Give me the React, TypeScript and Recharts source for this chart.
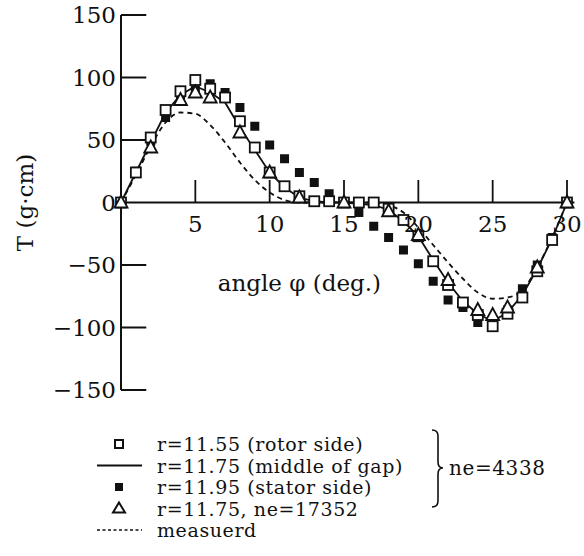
import React from "react";
import {
  ComposedChart,
  Line,
  Scatter,
  XAxis,
  YAxis,
  ReferenceLine,
  ReferenceDot,
} from "recharts";

const FONT = "'DejaVu Serif', serif";
const INK = "#111";

// angle phi (deg.) sampled every degree
const degrees = [0, 1, 2, 3, 4, 5, 6, 7, 8, 9, 10, 11, 12, 13, 14, 15, 16, 17, 18, 19, 20, 21, 22, 23, 24, 25, 26, 27, 28, 29, 30];

// r=11.55 (rotor side), open squares
const rotorSide = [0, 24, 52, 74, 89, 98, 91, 84, 65, 44, 24, 13, 5, 1, 1, 0, 0, 0, -5, -14, -27, -47, -66, -80, -90, -99, -89, -76, -55, -30, 0];
// r=11.75 (middle of gap), solid line
const middleOfGap = [0, 24, 48, 72, 86, 93, 88, 80, 60, 42, 24, 12, 4, 1, 0, 0, -1, -2, -6, -15, -27, -46, -64, -79, -89, -95, -88, -74, -53, -29, 0];
// r=11.95 (stator side), filled squares
const statorSide = [0, 25, 49, 68, 82, 90, 95, 88, 76, 61, 46, 35, 24, 16, 7, 0, -8, -19, -28, -38, -49, -63, -78, -84, -96, -97, -86, -69, -50, -28, 0];
// measured, dashed
const measured = [0, 22, 45, 64, 72, 71, 62, 48, 32, 18, 8, 2, 0, 0, 0, 0, 0, 0, -2, -8, -20, -34, -48, -61, -72, -77, -76, -70, -52, -28, 0];

// r=11.75, ne=17352, open triangles
const fineDeg = [0, 2, 4, 5, 6, 8, 10, 12, 15, 18, 20, 22, 24, 25, 26, 28, 30];
const fineMesh = [0, 44, 82, 88, 84, 56, 24, 4, 0, -7, -26, -62, -86, -90, -84, -52, 0];

const xTicks = [5, 10, 15, 20, 25, 30];
const yTicks = [-150, -100, -50, 0, 50, 100, 150];
const yInnerTicks = [150, 100, 50, -50, -100, -150];

const legendLabels = [
  "r=11.55 (rotor side)",
  "r=11.75 (middle of gap)",
  "r=11.95 (stator side)",
  "r=11.75, ne=17352",
  "measuerd",
];
const groupLabel = "ne=4338";

const rows = degrees.map((d, i) => ({ deg: d, middle: middleOfGap[i], measured: measured[i] }));
const rotorPts = degrees.map((d, i) => ({ deg: d, T: rotorSide[i] }));
const statorPts = degrees.map((d, i) => ({ deg: d, T: statorSide[i] }));
const finePts = fineDeg.map((d, i) => ({ deg: d, T: fineMesh[i] }));

const minus = (v: number) => (v < 0 ? "\u2212" + Math.abs(v) : String(v));

const OpenSquare = (p: any) => (
  <rect x={p.cx - 5} y={p.cy - 5} width={10} height={10} fill="#fff" stroke={INK} strokeWidth={1.8} />
);
const FilledSquare = (p: any) => (
  <rect x={p.cx - 4.5} y={p.cy - 4.5} width={9} height={9} fill={INK} />
);
const OpenTriangle = (p: any) => (
  <path
    d={`M${p.cx},${p.cy - 7} L${p.cx + 6.5},${p.cy + 5} L${p.cx - 6.5},${p.cy + 5} Z`}
    fill="#fff"
    stroke={INK}
    strokeWidth={1.8}
  />
);

function LegendBlock() {
  const rowY = (i: number) => 24 + i * 21.5;
  return (
    <svg width={584} height={136} style={{ position: "absolute", left: 0, top: 420 }}>
      <rect x={115} y={rowY(0) - 4} width={8} height={8} fill="#fff" stroke={INK} strokeWidth={2} />
      <line x1={97} x2={142} y1={rowY(1)} y2={rowY(1)} stroke={INK} strokeWidth={2} />
      <rect x={115} y={rowY(2) - 4} width={8} height={8} fill={INK} />
      <path
        d={`M119,${rowY(3) - 6} L125,${rowY(3) + 4} L113,${rowY(3) + 4} Z`}
        fill="#fff"
        stroke={INK}
        strokeWidth={2}
      />
      <line x1={97} x2={142} y1={rowY(4)} y2={rowY(4)} stroke={INK} strokeWidth={1.5} strokeDasharray="3 2.5" />
      {legendLabels.map((t, i) => (
        <text
          key={t}
          x={157}
          y={rowY(i)}
          dominantBaseline="central"
          fontFamily={FONT}
          fontSize={19}
          letterSpacing={0.6}
          fill={INK}
        >
          {t}
        </text>
      ))}
      <path
        d="M432,10 Q438,10 438,16 L438,42 Q438,48 443,48 Q438,48 438,54 L438,81 Q438,87 432,87"
        fill="none"
        stroke={INK}
        strokeWidth={1.6}
      />
      <text
        x={449}
        y={48}
        dominantBaseline="central"
        fontFamily={FONT}
        fontSize={20}
        letterSpacing={0.6}
        fill={INK}
      >
        {groupLabel}
      </text>
    </svg>
  );
}

export default function App() {
  return (
    <div style={{ position: "relative", width: 584, height: 556, background: "#fff" }}>
      <style>{`body{margin:0}`}</style>
      <ComposedChart
        width={584}
        height={556}
        data={rows}
        margin={{ top: 15, right: 17, bottom: 166, left: 0 }}
      >
        <XAxis dataKey="deg" type="number" domain={[0, 30]} hide />
        <YAxis
          type="number"
          domain={[-150, 150]}
          ticks={yTicks}
          width={121}
          axisLine={{ stroke: INK, strokeWidth: 2 }}
          tickLine={false}
          tickSize={0}
          tickMargin={5}
          tickFormatter={minus}
          tick={{ fill: INK, fontSize: 23, fontFamily: FONT }}
          label={{
            value: "T (g\u00b7cm)",
            angle: -90,
            position: "insideLeft",
            offset: 25,
            fill: INK,
            fontSize: 23,
            fontFamily: FONT,
            style: { textAnchor: "middle" },
          }}
        />
        <ReferenceLine
          segment={[{ x: 0, y: 0 }, { x: 30.5, y: 0 }]}
          stroke={INK}
          strokeWidth={2}
          ifOverflow="visible"
        />
        {yInnerTicks.map((v) => (
          <ReferenceLine key={"y" + v} segment={[{ x: 0, y: v }, { x: 1.7, y: v }]} stroke={INK} strokeWidth={2} />
        ))}
        {xTicks.map((t) => (
          <ReferenceLine key={"x" + t} segment={[{ x: t, y: 0 }, { x: t, y: 18 }]} stroke={INK} strokeWidth={1.8} />
        ))}
        {xTicks.map((t) => (
          <ReferenceDot
            key={"l" + t}
            x={t}
            y={0}
            r={0}
            stroke="none"
            fill="none"
            label={{ value: String(t), position: "bottom", offset: 13, fill: INK, fontSize: 23, fontFamily: FONT }}
          />
        ))}
        <ReferenceDot
          x={12}
          y={-64}
          r={0}
          stroke="none"
          fill="none"
          label={{ value: "angle \u03c6 (deg.)", position: "center", fill: INK, fontSize: 23, fontFamily: FONT }}
        />
        <Line
          dataKey="measured"
          type="monotone"
          stroke={INK}
          strokeWidth={1.8}
          strokeDasharray="5 4"
          dot={false}
          isAnimationActive={false}
        />
        <Line
          dataKey="middle"
          type="linear"
          stroke={INK}
          strokeWidth={1.8}
          dot={false}
          isAnimationActive={false}
        />
        <Scatter data={statorPts} dataKey="T" shape={FilledSquare} isAnimationActive={false} />
        <Scatter data={rotorPts} dataKey="T" shape={OpenSquare} isAnimationActive={false} />
        <Scatter data={finePts} dataKey="T" shape={OpenTriangle} isAnimationActive={false} />
      </ComposedChart>
      <LegendBlock />
    </div>
  );
}
